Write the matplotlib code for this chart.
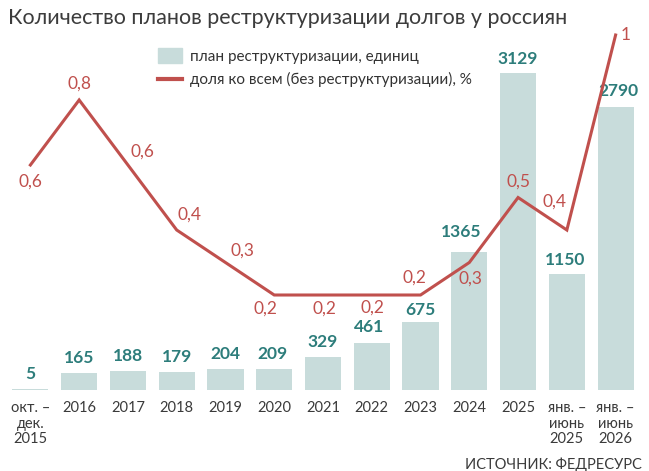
import matplotlib.pyplot as plt
from matplotlib.patches import Rectangle
from matplotlib.lines import Line2D

plt.rcParams['font.family'] = ['Lato', 'DejaVu Sans']

categories = ['окт. –\nдек.\n2015', '2016', '2017', '2018', '2019', '2020', '2021',
              '2022', '2023', '2024', '2025', 'янв. –\nиюнь\n2025', 'янв. –\nиюнь\n2026']
plans = [5, 165, 188, 179, 204, 209, 329, 461, 675, 1365, 3129, 1150, 2790]
share = [0.6, 0.8, 0.6, 0.4, 0.3, 0.2, 0.2, 0.2, 0.2, 0.3, 0.5, 0.4, 1]
share_text = ['0,6', '0,8', '0,6', '0,4', '0,3', '0,2', '0,2', '0,2', '0,2', '0,3', '0,5', '0,4', '1']

# label offsets in pixels (dx, dy), dy up
bar_off = [(0, 15), (0, 15), (0, 15), (0, 15), (0, 15), (-2, 15), (0, 15),
           (-3, 16), (0, 12), (-8, 20), (0, 14), (-2, 14), (3, 16)]
line_off = [(0, -17), (0, 16), (15, 13), (13, 15), (17, 12), (-9, -14), (1, -14),
            (1, -13), (-6, 17), (1, -16), (0, 16), (-12, 28), (10, 0)]

BAR = '#c8dcdb'
TEAL = '#2d7d7b'
RED = '#c0504d'

fig = plt.figure(figsize=(6.49, 4.71), dpi=100)
ax = fig.add_axes([6 / 649, 81 / 471, 634 / 649, 360 / 471])
ax2 = ax.twinx()

x = list(range(len(categories)))
ax.bar(x, plans, width=0.74, color=BAR, zorder=1)
ax.set_xlim(-0.5, len(categories) - 0.5)
ax.set_ylim(0, 3554)
ax2.set_ylim(-0.0923, 1.0154)

for i, v in enumerate(plans):
    ax.annotate(str(v), (i, v), xytext=bar_off[i], textcoords='offset pixels',
                ha='center', va='center', color=TEAL, fontsize=12.5, fontweight='bold')

ax2.plot(x, share, color=RED, lw=2.2, solid_joinstyle='miter', zorder=3)
for i, v in enumerate(share):
    ax2.annotate(share_text[i], (i, v), xytext=line_off[i], textcoords='offset pixels',
                 ha='center', va='center', color=RED, fontsize=12.5)

for a in (ax, ax2):
    for s in a.spines.values():
        s.set_visible(False)
    a.set_yticks([])
ax.set_xticks(x)
ax.set_xticklabels(categories, fontsize=10.5, color='#3a3a3a',
                   linespacing=1.15, va='top')
ax.tick_params(axis='x', length=0, pad=8)
ax.patch.set_visible(False)

fig.text(8 / 649, 1 - 18 / 471, 'Количество планов реструктуризации долгов у россиян',
         fontsize=15.5, color='#3c3c3c', va='center', ha='left')

# legend
fig.add_artist(Rectangle((158 / 649, 1 - 63 / 471), 24 / 649, 15 / 471,
                         transform=fig.transFigure, color=BAR))
fig.add_artist(Line2D([158 / 649, 182 / 649], [1 - 79 / 471, 1 - 79 / 471],
                      transform=fig.transFigure, color=RED, lw=3))
fig.text(190 / 649, 1 - 57 / 471, 'план реструктуризации, единиц', fontsize=11,
         color='#333333', va='center', ha='left')
fig.text(190 / 649, 1 - 79 / 471, 'доля ко всем (без реструктуризации), %', fontsize=11,
         color='#333333', va='center', ha='left')

fig.text(642 / 649, 1 - 465 / 471, 'ИСТОЧНИК: ФЕДРЕСУРС', fontsize=10.5,
         color='#3a3a3a', va='center', ha='right')

fig.savefig('out.png', dpi=100)
